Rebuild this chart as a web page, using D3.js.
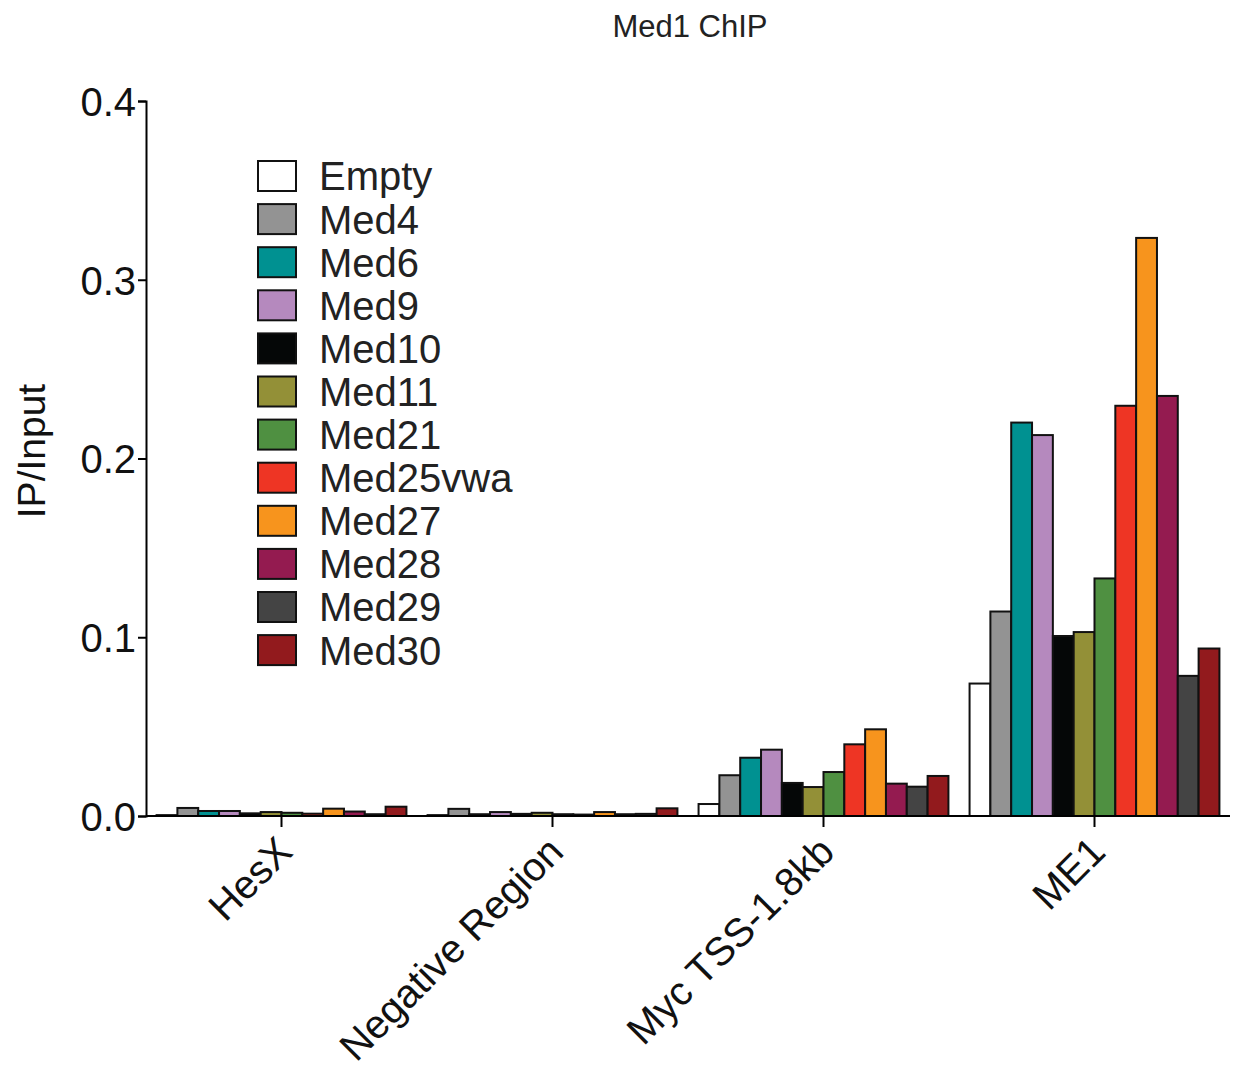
<!DOCTYPE html>
<html>
<head>
<meta charset="utf-8">
<script src="https://cdn.jsdelivr.net/npm/d3@7"></script>
<style>
  body { margin: 0; background: #fff; }
  svg { font-family: "Liberation Sans", Arial, Helvetica, sans-serif; }
</style>
</head>
<body>
<svg id="chart" width="1233" height="1068"></svg>
<script>
const regions = ["HesX", "Negative Region", "Myc TSS-1.8kb", "ME1"]
const constructs = ["Empty", "Med4", "Med6", "Med9", "Med10", "Med11", "Med21", "Med25vwa", "Med27", "Med28", "Med29", "Med30"]
const colors = ["#ffffff", "#939393", "#009191", "#b589be", "#050707", "#939037", "#4f9041", "#ee3524", "#f7941d", "#941b50", "#444444", "#921a1d"]

// IP/Input per construct, one array per region
const hesX = [0.0005, 0.0045, 0.0028, 0.0028, 0.0015, 0.0022, 0.0018, 0.0013, 0.0041, 0.0025, 0.001, 0.0052]
const negativeRegion = [0.0005, 0.004, 0.001, 0.0022, 0.0012, 0.0018, 0.001, 0.0008, 0.0022, 0.001, 0.0012, 0.0043]
const mycTss = [0.0067, 0.0228, 0.0326, 0.0371, 0.0185, 0.0162, 0.0246, 0.0401, 0.0485, 0.0181, 0.0164, 0.0224]
const me1 = [0.0741, 0.1144, 0.2201, 0.2131, 0.1007, 0.1029, 0.1329, 0.2295, 0.3234, 0.235, 0.0784, 0.0937]
const values = [hesX, negativeRegion, mycTss, me1]

const yTicks = [0, 0.1, 0.2, 0.3, 0.4]

const margin = { left: 146, top: 101, right: 3, bottom: 252 }
const width = 1233 - margin.left - margin.right
const height = 1068 - margin.top - margin.bottom

const svg = d3.select("#chart")
const g = svg.append("g").attr("transform", `translate(${margin.left},${margin.top})`)

const x0 = d3.scaleBand().domain(regions).range([0, width]).paddingInner(0.078).paddingOuter(0.039)
const x1 = d3.scaleBand().domain(constructs).range([0, x0.bandwidth()])
const y = d3.scaleLinear().domain([0, 0.4]).range([height, 0])

// bars
const groups = g.append("g")
    .selectAll("g")
    .data(regions)
    .join("g")
    .attr("transform", (d) => `translate(${x0(d)},0)`)

groups.selectAll("rect")
    .data((d, i) => values[i].map((v, j) => ({ key: constructs[j], value: v, color: colors[j] })))
    .join("rect")
    .attr("x", (d) => x1(d.key))
    .attr("width", x1.bandwidth())
    .attr("y", (d) => y(d.value))
    .attr("height", (d) => height - y(d.value))
    .attr("fill", (d) => d.color)
    .attr("stroke", "#111")
    .attr("stroke-width", 2)

// y axis
const yAxis = g.append("g")
    .call(d3.axisLeft(y).tickValues(yTicks).tickFormat(d3.format(".1f")).tickSizeOuter(0).tickSize(8))
yAxis.select(".domain").attr("stroke-width", 2)
yAxis.selectAll(".tick line").attr("stroke-width", 2)
yAxis.selectAll(".tick text")
    .attr("font-size", 40)
    .attr("fill", "#111")
    .attr("x", -10)
    .attr("dy", "0.36em")

// x axis
const xAxis = g.append("g")
    .attr("transform", `translate(0,${height})`)
    .call(d3.axisBottom(x0).tickSize(11).tickSizeOuter(0))
xAxis.select(".domain").attr("stroke-width", 2).attr("d", `M0,0H${width}`)
xAxis.selectAll(".tick line").attr("stroke-width", 2)
xAxis.selectAll(".tick text")
    .attr("font-size", 40)
    .attr("fill", "#111")
    .attr("text-anchor", "end")
    .attr("dy", "0.35em")
    .attr("y", 0)
    .attr("transform", "translate(3,28) rotate(-45)")

// y title
svg.append("text")
    .attr("transform", "translate(45,451) rotate(-90)")
    .attr("text-anchor", "middle")
    .attr("font-size", 39)
    .attr("fill", "#111")
    .text("IP/Input")

// title
svg.append("text")
    .attr("x", 690)
    .attr("y", 37)
    .attr("text-anchor", "middle")
    .attr("font-size", 31)
    .attr("fill", "#222")
    .text("Med1 ChIP")

// legend
const legend = svg.append("g")
    .selectAll("g")
    .data(constructs)
    .join("g")
    .attr("transform", (d, i) => `translate(258,${176 + i * 43.1})`)

legend.append("rect")
    .attr("x", 0)
    .attr("y", -15)
    .attr("width", 38)
    .attr("height", 30)
    .attr("fill", (d, i) => colors[i])
    .attr("stroke", "#111")
    .attr("stroke-width", 2)

legend.append("text")
    .attr("x", 61)
    .attr("dy", "0.36em")
    .attr("font-size", 40)
    .attr("fill", "#222")
    .text((d) => d)
</script>
</body>
</html>
